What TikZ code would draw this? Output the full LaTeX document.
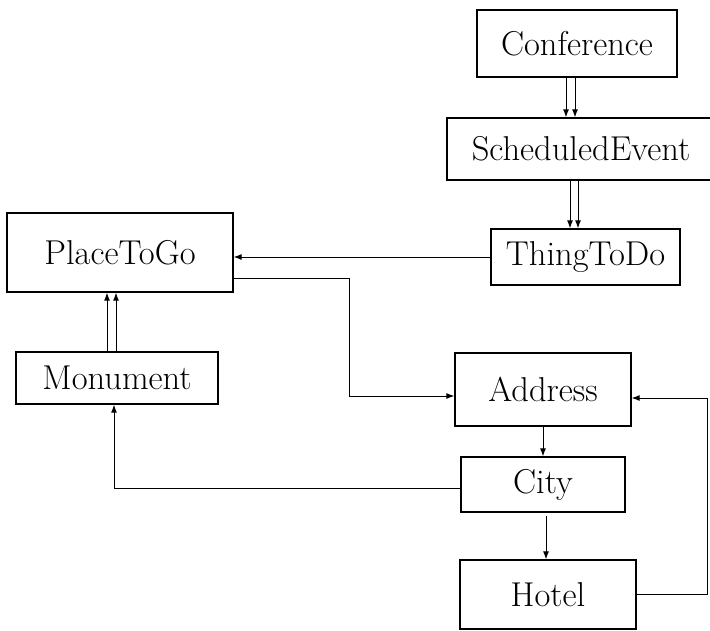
\documentclass[tikz,border=0pt]{standalone}
\usepackage{fontspec}
\usetikzlibrary{arrows.meta,calc}
\begin{document}
\begin{tikzpicture}[x=1pt,y=-1pt,
  box/.style={draw,line width=1.3pt,inner sep=0pt,font=\fontsize{34.5}{40}\selectfont},
  arr/.style={line width=1pt,-{Latex[length=8pt,width=6pt]}}]
\clip (0,0) rectangle (710,630);
\useasboundingbox (0,0) rectangle (710,630);
\node[box,minimum width=200pt,minimum height=67pt] (conf) at (577,43.5) {Conference};
\node[box,minimum width=268pt,minimum height=62pt] (sched) at (581,149) {ScheduledEvent};
\node[box,minimum width=189pt,minimum height=56pt] (thing) at (585.5,257) {ThingToDo};
\node[box,minimum width=226pt,minimum height=79pt] (place) at (120,252.5) {PlaceToGo};
\node[box,minimum width=202pt,minimum height=52pt] (mon) at (117,378) {Monument};
\node[box,minimum width=176pt,minimum height=73pt] (addr) at (543,389.5) {Address};
\node[box,minimum width=164pt,minimum height=55pt] (city) at (543,484.5) {City};
\node[box,minimum width=176pt,minimum height=69pt] (hotel) at (548,594.5) {Hotel};
% helper coordinates
\coordinate (xa) at (566,0);
\coordinate (xb) at (575,0);
\coordinate (xc) at (570,0);
\coordinate (xd) at (578,0);
\coordinate (xe) at (107,0);
\coordinate (xf) at (116,0);
\coordinate (xg) at (114,0);
\coordinate (xh) at (546,0);
\coordinate (k1) at (349,396);
\coordinate (k2) at (707,398);
% connectors
\draw[arr] (xa |- conf.south) -- (xa |- sched.north);
\draw[arr] (xb |- conf.south) -- (xb |- sched.north);
\draw[arr] (xc |- sched.south) -- (xc |- thing.north);
\draw[arr] (xd |- sched.south) -- (xd |- thing.north);
\draw[arr] (thing.west) -- (thing.west -| place.east);
\draw[arr] ([yshift=-25.5pt]place.east) -| (k1) -- (k1 -| addr.west);
\draw[arr] (xe |- mon.north) -- (xe |- place.south);
\draw[arr] (xf |- mon.north) -- (xf |- place.south);
\draw[arr] ([yshift=-3.5pt]city.west) -| (xg |- mon.south);
\draw[arr] (addr.south) -- (city.north);
\draw[arr] ([yshift=-3pt]xh |- city.south) -- (xh |- hotel.north);
\draw[arr] (hotel.east) -| (k2) -- (k2 -| addr.east);
\end{tikzpicture}
\end{document}
